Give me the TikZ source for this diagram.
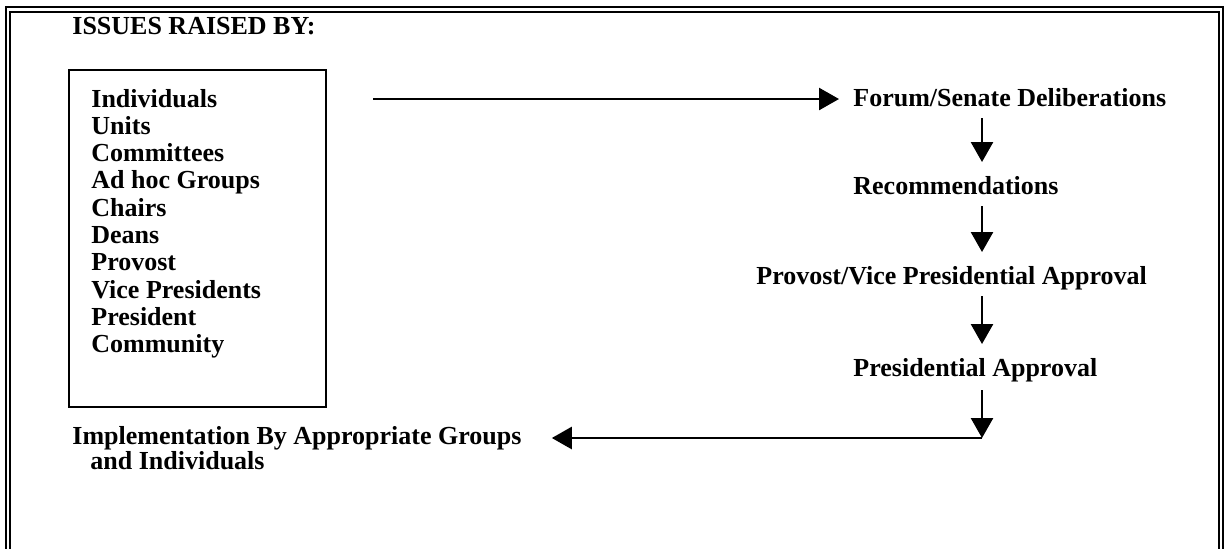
\documentclass[tikz,border=0pt]{standalone}
\usepackage{fontspec}
\setmainfont{Liberation Serif}
\usetikzlibrary{arrows.meta,calc}

\begin{document}
\begin{tikzpicture}[x=0.5pt,y=-0.5pt,
    every node/.style={font=\bfseries\fontsize{13pt}{13.65pt}\selectfont, inner sep=0pt},
    flow/.style={line width=1.3pt, -{Triangle[length=10pt,width=11pt]}}]
    \useasboundingbox (0,0) rectangle (1225,548);

    % double frame, open at the bottom
    \draw[line width=1pt] (6,560) -- (6,7) -- (1223,7) -- (1223,560);
    \draw[line width=1pt] (10,560) -- (10,12) -- (1219,12) -- (1219,560);

    \node[anchor=base west] (title) at (72,34) {ISSUES RAISED BY:};

    % who raises issues
    \draw[line width=1.2pt] (69,70) rectangle (326,407);
    \foreach \who [count=\i] in {Individuals,Units,Committees,Ad hoc Groups,Chairs,Deans,Provost,Vice Presidents,President,Community}
        \node[anchor=base west] (who\i) at (91,{107+27.3*(\i-1)}) {\who};

    % approval chain
    \coordinate (spine) at (982,0);
    \node[anchor=base west] (forum) at (853,106) {Forum/Senate Deliberations};
    \node[anchor=base west] (recom) at (853,194) {Recommendations};
    \node[anchor=base west] (vpapp) at (756,284) {Provost/Vice Presidential Approval};
    \node[anchor=base west] (presapp) at (853,376) {Presidential Approval};
    % base = baseline of the last line here
    \node[anchor=base west, align=left] (impl) at (72,469) {Implementation By Appropriate Groups\\[-1.15pt]\hspace{9pt}and Individuals};

    \coordinate (start) at (373,99);
    \coordinate (turn) at (982,438);

    \draw[flow, shorten >=7pt] (start) -- (start -| forum.west);
    \draw[flow] ($(forum.base -| spine)+(0,-6pt)$) -- ($(recom.base -| spine)+(0,16pt)$);
    \draw[flow] ($(recom.base -| spine)+(0,-6pt)$) -- ($(vpapp.base -| spine)+(0,16pt)$);
    \draw[flow] ($(vpapp.base -| spine)+(0,-6pt)$) -- ($(presapp.base -| spine)+(0,16pt)$);
    \draw[flow] ($(presapp.base -| spine)+(0,-7pt)$) -- (turn);
    \draw[flow, shorten >=15pt] (turn) -- (turn -| impl.east);
\end{tikzpicture}
\end{document}
